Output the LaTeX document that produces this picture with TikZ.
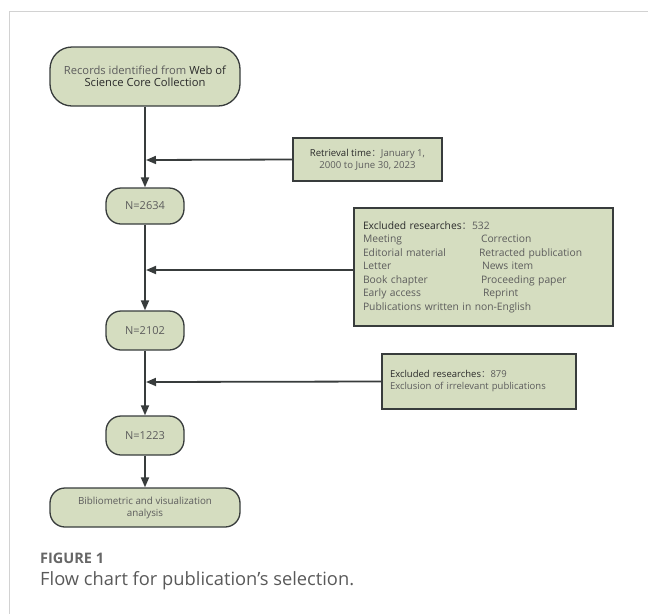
\documentclass[tikz,border=0pt]{standalone}
\usepackage{fontspec}
\setmainfont{Open Sans}
\newfontfamily\cjk{Noto Sans CJK SC}
\usepackage{xcolor}
\usetikzlibrary{arrows.meta,positioning}
\definecolor{boxfill}{HTML}{D5DDC0}
\definecolor{boxline}{HTML}{383C3C}
\definecolor{txtdark}{HTML}{2A2A2A}
\definecolor{txtlight}{HTML}{5C5C5C}
\definecolor{frame}{HTML}{D2D2D2}
\newcommand{\fwcolon}{{\cjk ：}}
\tikzset{rbox/.style={draw=boxline,fill=boxfill,line width=1.3pt,rounded corners=15pt,align=center,inner sep=0pt,text=txtlight,font=\fontsize{10}{12}\selectfont},
         sbox/.style={draw=boxline,fill=boxfill,line width=1.3pt,inner sep=0pt,text=txtlight,font=\fontsize{10}{12}\selectfont},
         conn/.style={draw=boxline,line width=1.8pt}}

\begin{document}
\begin{tikzpicture}[x=1pt,y=-1pt,>={Triangle[length=10pt,width=8pt]}]
    \useasboundingbox (0,0) rectangle (648,614);
    \draw [frame,line width=1pt] (648,11) -- (9,11) -- (9,614);

    \node[rbox,minimum width=190pt,minimum height=59pt,rounded corners=22pt,font=\fontsize{11.2}{12.5}\selectfont] (rec) at (145,76.5) {Records identified from \textcolor{txtdark}{Web of}\\\textcolor{txtdark}{Science Core Collection}};
    \node[sbox,align=center,minimum width=149pt,minimum height=43pt,font=\fontsize{9.6}{12}\selectfont] (ret) at (367.5,159.5) {\textcolor{txtdark}{Retrieval time}\fwcolon January 1,\\2000 to June 30, 2023};
    \node[rbox,minimum width=78pt,minimum height=36pt,font=\fontsize{11}{12}\selectfont] (na) at (145,206) {N=2634};
    \node[sbox,minimum width=259pt,minimum height=118pt,text width=241pt,align=left,font=\fontsize{10.3}{13.5}\selectfont] (ex) at (483.5,267) {%
        \begin{tabular}{@{}p{116pt}@{}l@{}}
        \multicolumn{2}{@{}l@{}}{\textcolor{txtdark}{Excluded researches}\fwcolon 532}\\
        Meeting & \hspace{2pt}Correction\\
        Editorial material & Retracted publication\\
        Letter & \hspace{3pt}News item\\
        Book chapter & \hspace{2pt}Proceeding paper\\
        Early access & \hspace{4pt}Reprint\\
        \multicolumn{2}{@{}l@{}}{Publications written in non-English}
        \end{tabular}};
    \node[rbox,minimum width=78pt,minimum height=39pt,font=\fontsize{11}{12}\selectfont] (nb) at (145,330.5) {N=2102};
    \node[sbox,minimum width=194pt,minimum height=55pt,text width=178pt,align=left,font=\fontsize{9.5}{12}\selectfont] (ey) at (479,381.5) {\textcolor{txtdark}{Excluded researches}\fwcolon 879\\Exclusion of irrelevant publications\\[6pt]};
    \node[rbox,minimum width=78pt,minimum height=39pt,font=\fontsize{11}{12}\selectfont] (nc) at (145,435.5) {N=1223};
    \node[rbox,minimum width=190pt,minimum height=39pt,font=\fontsize{9.8}{12}\selectfont] (bib) at (145,507.5) {Bibliometric and visualization\\analysis};

    \coordinate (ja) at (145,160);
    \coordinate (jb) at (145,270);
    \coordinate (jc) at (145,382);

    \draw [conn,->] (rec) -- (rec.south |- na.north);
    \draw [conn,->] (ret.west) -- ([xshift=1pt]ja);
    \draw [conn,->] (na) -- (nb);
    \draw [conn,->] (ex.west |- jb) -- ([xshift=1pt]jb);
    \draw [conn,->] (nb) -- (nc);
    \draw [conn,->] (ey.west) -- ([xshift=1pt]jc);
    \draw [conn,->] (nc) -- (bib);

    \node[anchor=west,inner sep=0pt,text=black!60,font=\fontsize{14.5}{16}\selectfont\bfseries] (fig) at (40,558) {FIGURE 1};
    \node[anchor=west,inner sep=0pt,text=black!65,font=\fontsize{18.3}{20}\selectfont] (cap) at (40,581) {Flow chart for publication’s selection.};
\end{tikzpicture}
\end{document}
